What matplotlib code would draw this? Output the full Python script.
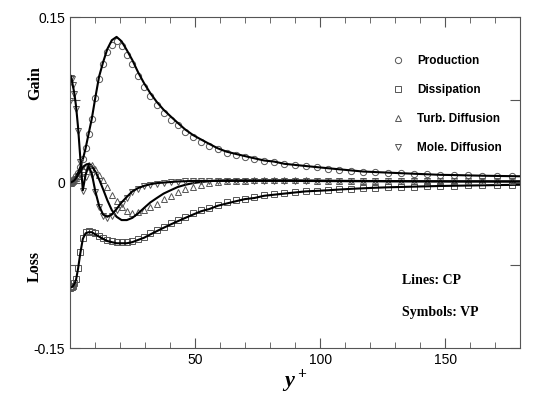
import matplotlib
matplotlib.use("Agg")
import matplotlib.pyplot as plt
from matplotlib.ticker import MultipleLocator

# wall distance grid (stretched), shared by lines (CP) and symbols (VP)
y_plus = [0, 0.2, 0.6, 1.1, 1.7, 2.4, 3.2, 4.1, 5.1, 6.2,
          7.4, 8.7, 10.1, 11.6, 13.2, 14.9, 16.7, 18.6, 20.6, 22.7,
          24.9, 27.2, 29.6, 32.1, 34.7, 37.4, 40.2, 43.1, 46.1, 49.2,
          52.4, 55.7, 59.1, 62.6, 66.2, 69.9, 73.7, 77.6, 81.6, 85.7,
          89.9, 94.2, 98.6, 103.1, 107.7, 112.4, 117.2, 122.1, 127.1, 132.2,
          137.4, 142.7, 148.1, 153.6, 159.2, 164.9, 170.7, 176.6, 180]

# ---- lines: CP ----
prod_cp = [0, 0.0003, 0.001, 0.002, 0.0035, 0.0055, 0.009, 0.014, 0.021, 0.031,
           0.044, 0.058, 0.077, 0.096, 0.109, 0.121, 0.129, 0.132, 0.128, 0.120,
           0.111, 0.100, 0.090, 0.081, 0.073, 0.066, 0.060, 0.054, 0.048, 0.043,
           0.039, 0.035, 0.031, 0.028, 0.026, 0.024, 0.022, 0.020, 0.019, 0.017,
           0.016, 0.015, 0.014, 0.013, 0.012, 0.011, 0.010, 0.0095, 0.009, 0.0085,
           0.008, 0.0075, 0.007, 0.0068, 0.0065, 0.0062, 0.006, 0.0058, 0.0057]
diss_cp = [-0.095, -0.095, -0.095, -0.094, -0.092, -0.088, -0.078, -0.064, -0.051, -0.046,
           -0.045, -0.045, -0.047, -0.049, -0.051, -0.053, -0.054, -0.055, -0.055, -0.055,
           -0.054, -0.052, -0.050, -0.047, -0.044, -0.041, -0.038, -0.035, -0.032, -0.029,
           -0.026, -0.024, -0.021, -0.019, -0.017, -0.015, -0.014, -0.012, -0.011, -0.010,
           -0.009, -0.008, -0.0075, -0.007, -0.0063, -0.0057, -0.0052, -0.0047, -0.0043, -0.004,
           -0.0037, -0.0034, -0.0031, -0.0029, -0.0027, -0.0025, -0.0023, -0.0021, -0.002]
turb_cp = [0, 0, 0.0005, 0.001, 0.002, 0.004, 0.007, 0.010, 0.014, 0.016,
           0.017, 0.015, 0.010, 0.003, -0.006, -0.016, -0.025, -0.031, -0.034, -0.034,
           -0.032, -0.028, -0.023, -0.018, -0.014, -0.010, -0.007, -0.004, -0.002, -0.0005,
           0.0005, 0.0012, 0.0018, 0.002, 0.002, 0.002, 0.002, 0.002, 0.002, 0.002,
           0.002, 0.0019, 0.0018, 0.0017, 0.0016, 0.0015, 0.0014, 0.0014, 0.0013, 0.0013,
           0.0012, 0.0012, 0.0012, 0.0011, 0.0011, 0.0011, 0.001, 0.001, 0.001]
mole_cp = [0.097, 0.097, 0.094, 0.088, 0.081, 0.069, 0.050, 0.022, -0.007, 0.007,
           0.015, 0.008, -0.008, -0.021, -0.029, -0.031, -0.029, -0.024, -0.018, -0.013,
           -0.008, -0.005, -0.003, -0.0015, -0.0005, 0.0, 0.0005, 0.001, 0.0012, 0.0015,
           0.0015, 0.0015, 0.0015, 0.0015, 0.0015, 0.0015, 0.0015, 0.0015, 0.0015, 0.0015,
           0.0015, 0.0014, 0.0014, 0.0013, 0.0013, 0.0012, 0.0012, 0.0012, 0.0011, 0.0011,
           0.0011, 0.001, 0.001, 0.001, 0.001, 0.001, 0.001, 0.001, 0.001]

# ---- symbols: VP ----
prod_vp = [0, 0.0003, 0.001, 0.002, 0.0035, 0.0055, 0.009, 0.014, 0.021, 0.031,
           0.044, 0.058, 0.077, 0.094, 0.107, 0.118, 0.125, 0.128, 0.124, 0.116,
           0.107, 0.097, 0.087, 0.078, 0.070, 0.063, 0.057, 0.052, 0.046, 0.041,
           0.037, 0.033, 0.030, 0.027, 0.025, 0.023, 0.021, 0.0195, 0.0185, 0.0167,
           0.0157, 0.0147, 0.0137, 0.0127, 0.0118, 0.0108, 0.0099, 0.0093, 0.0088, 0.0083,
           0.0078, 0.0074, 0.0069, 0.0067, 0.0064, 0.0061, 0.0059, 0.0057, 0.0056]
diss_vp = [-0.096, -0.095, -0.095, -0.094, -0.091, -0.087, -0.077, -0.063, -0.050, -0.045,
           -0.044, -0.045, -0.046, -0.048, -0.050, -0.052, -0.053, -0.054, -0.054, -0.054,
           -0.053, -0.051, -0.049, -0.046, -0.043, -0.040, -0.037, -0.034, -0.031, -0.028,
           -0.025, -0.023, -0.020, -0.018, -0.016, -0.0145, -0.0135, -0.0117, -0.0107, -0.0097,
           -0.0088, -0.0079, -0.0074, -0.0069, -0.0062, -0.0056, -0.0051, -0.0046, -0.0042, -0.0039,
           -0.0036, -0.0033, -0.003, -0.0028, -0.0026, -0.0024, -0.0022, -0.002, -0.002]
turb_vp = [0, 0, 0.0005, 0.001, 0.002, 0.004, 0.006, 0.009, 0.012, 0.015,
           0.016, 0.016, 0.012, 0.007, 0.002, -0.004, -0.011, -0.017, -0.022, -0.026,
           -0.028, -0.027, -0.025, -0.022, -0.019, -0.015, -0.012, -0.009, -0.006, -0.004,
           -0.002, -0.0005, 0.0005, 0.0012, 0.0015, 0.0018, 0.002, 0.002, 0.002, 0.002,
           0.002, 0.0019, 0.0018, 0.0017, 0.0016, 0.0015, 0.0014, 0.0014, 0.0013, 0.0013,
           0.0012, 0.0012, 0.0012, 0.0011, 0.0011, 0.0011, 0.001, 0.001, 0.001]
mole_vp = [0.074, 0.095, 0.094, 0.088, 0.080, 0.067, 0.047, 0.019, -0.008, 0.005,
           0.013, 0.007, -0.009, -0.022, -0.030, -0.032, -0.030, -0.025, -0.019, -0.014,
           -0.009, -0.006, -0.0035, -0.002, -0.001, -0.0003, 0.0003, 0.0008, 0.001, 0.0013,
           0.0015, 0.0015, 0.0015, 0.0015, 0.0015, 0.0015, 0.0015, 0.0015, 0.0015, 0.0015,
           0.0015, 0.0014, 0.0014, 0.0013, 0.0013, 0.0012, 0.0012, 0.0012, 0.0011, 0.0011,
           0.0011, 0.001, 0.001, 0.001, 0.001, 0.001, 0.001, 0.001, 0.001]

labels = ["Production", "Dissipation", "Turb. Diffusion", "Mole. Diffusion"]
markers = ["o", "s", "^", "v"]

plt.rcParams["font.family"] = "Liberation Sans"
plt.rcParams["mathtext.fontset"] = "custom"
plt.rcParams["mathtext.it"] = "Liberation Serif:italic:bold"
plt.rcParams["mathtext.rm"] = "Liberation Serif:bold"

fig = plt.figure(figsize=(5.39, 3.96), dpi=100)
ax = fig.add_axes([0.130, 0.121, 0.835, 0.836])

for cp, vp, lab, mk in zip([prod_cp, diss_cp, turb_cp, mole_cp],
                           [prod_vp, diss_vp, turb_vp, mole_vp], labels, markers):
    ax.plot(y_plus[:-1], vp[:-1], ls="none", marker=mk, ms=4.5, mfc="none",
            mec="#555555", mew=0.7, label=lab)
    ax.plot(y_plus, cp, color="black", lw=1.5)

ax.set_xlim(0, 180)
ax.set_ylim(-0.15, 0.15)
ax.set_xticks([50, 100, 150])
ax.xaxis.set_minor_locator(MultipleLocator(10))
ax.set_yticks([-0.15, -0.075, 0, 0.075, 0.15])
ax.set_yticklabels(["-0.15", "", "0", "", "0.15"])
ax.tick_params(which="both", direction="in", top=True, right=True,
               labelsize=10, color="#555555", pad=3.5)
ax.tick_params(which="major", length=7)
ax.tick_params(which="minor", length=4)
for s in ax.spines.values():
    s.set_color("#555555")

ax.set_xlabel("$y^+$", fontsize=16, labelpad=0)

yt = ax.get_yaxis_transform()
ax.text(-0.078, 0.09, "Gain", transform=yt, rotation=90, ha="center", va="center",
        family="Liberation Serif", weight="bold", size=11.5)
ax.text(-0.078, -0.076, "Loss", transform=yt, rotation=90, ha="center", va="center",
        family="Liberation Serif", weight="bold", size=11.5)

ax.legend(loc="upper left", bbox_to_anchor=(0.716, 0.885), frameon=False,
          borderpad=0, borderaxespad=0, handlelength=1.0, handletextpad=1.1,
          labelspacing=1.45, prop={"family": "Liberation Sans", "weight": "bold", "size": 8.5})

ax.text(0.738, 0.205, "Lines: CP", transform=ax.transAxes, va="center",
        family="Liberation Serif", weight="bold", size=10)
ax.text(0.738, 0.106, "Symbols: VP", transform=ax.transAxes, va="center",
        family="Liberation Serif", weight="bold", size=10)

fig.savefig("out.png", dpi=100)
